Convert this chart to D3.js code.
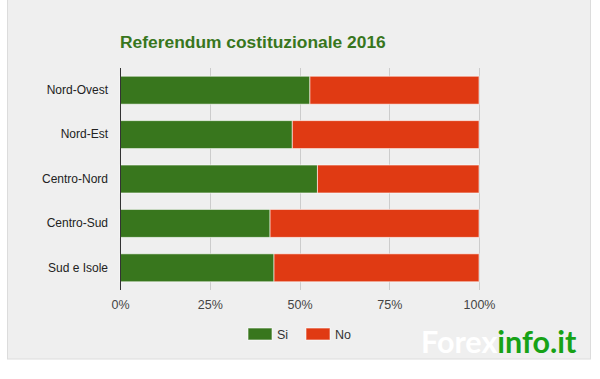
<!DOCTYPE html>
<html>
<head>
<meta charset="utf-8">
<script src="https://cdn.jsdelivr.net/npm/d3@7"></script>
<style>
  body { margin: 0; background: #fff; }
  text { font-family: "Liberation Sans", Arial, sans-serif; }
</style>
</head>
<body>
<svg width="600" height="379"></svg>
<script>
var regions = ["Nord-Ovest", "Nord-Est", "Centro-Nord", "Centro-Sud", "Sud e Isole"];
var si = [52.9, 48.0, 55.0, 41.8, 42.9];
var no = si.map(function(v) { return 100 - v; });
var ticks = [0, 25, 50, 75, 100];
var seriesNames = ["Si", "No"];
var colors = ["#38761d", "#e03a13"];

var svg = d3.select("svg");

// sfondo grigio
svg.append("rect")
  .attr("x", 7.5).attr("y", -1).attr("width", 583).attr("height", 360)
  .attr("fill", "#efefef").attr("stroke", "#dcdcdc");

var x = d3.scaleLinear().domain([0, 100]).range([120, 479]);
var y = d3.scaleBand().domain(regions).range([68, 290]).paddingInner(0.37).paddingOuter(0.185);

svg.append("text")
  .attr("x", 120).attr("y", 48)
  .attr("font-size", 17.4).attr("font-weight", "bold")
  .attr("fill", "#38761d")
  .text("Referendum costituzionale 2016");

// griglia
svg.append("g").selectAll("line")
  .data(ticks.slice(1))
  .enter().append("line")
  .attr("x1", function(d) { return Math.round(x(d)) + 0.5; })
  .attr("x2", function(d) { return Math.round(x(d)) + 0.5; })
  .attr("y1", 68).attr("y2", 290)
  .attr("stroke", "#cccccc");

var stack = regions.map(function(r, i) {
  return [{ key: 0, x0: 0, x1: si[i], r: r }, { key: 1, x0: si[i], x1: 100, r: r }];
});

svg.append("g").selectAll("g")
  .data(stack)
  .enter().append("g")
  .selectAll("rect")
  .data(function(d) { return d; })
  .enter().append("rect")
  .attr("x", function(d) { return x(d.x0); })
  .attr("width", function(d) { return x(d.x1) - x(d.x0); })
  .attr("y", function(d) { return y(d.r); })
  .attr("height", y.bandwidth())
  .attr("fill", function(d) { return colors[d.key]; })
  .attr("stroke", "#ffffff").attr("stroke-width", 1).attr("stroke-opacity", 0.6);

// asse
svg.append("line")
  .attr("x1", 120.5).attr("x2", 120.5).attr("y1", 68).attr("y2", 290)
  .attr("stroke", "#333333");

var xAxis = svg.append("g").attr("transform", "translate(0,294)")
  .call(d3.axisBottom(x).tickValues(ticks).tickSize(0).tickFormat(function(d) { return d + "%"; }));
xAxis.select(".domain").remove();
xAxis.selectAll("text").attr("font-size", 12.5).attr("fill", "#444").attr("dy", "0.95em");

var yAxis = svg.append("g").attr("transform", "translate(108,0)")
  .call(d3.axisLeft(y).tickSize(0).tickPadding(0));
yAxis.select(".domain").remove();
yAxis.selectAll("text").attr("font-size", 12).attr("fill", "#222");

// legenda
var legX = [248, 306];
var leg = svg.append("g").selectAll("g")
  .data(seriesNames)
  .enter().append("g")
  .attr("transform", function(d, i) { return "translate(" + legX[i] + ",328)"; });
leg.append("rect").attr("width", 24).attr("height", 12)
  .attr("fill", function(d, i) { return colors[i]; })
  .attr("stroke", "#fff").attr("stroke-opacity", 0.6);
leg.append("text").attr("x", 29).attr("y", 11)
  .attr("font-size", 12.5).attr("fill", "#333")
  .text(function(d) { return d; });

// watermark
var wm = svg.append("text").attr("x", 421).attr("y", 353)
  .attr("font-size", 30.5).attr("font-weight", "bold")
  .style("font-family", "Lato, 'Open Sans', sans-serif");
wm.append("tspan").attr("fill", "#ffffff").text("Forex");
wm.append("tspan").attr("fill", "#17a216").text("info.it");
</script>
</body>
</html>
